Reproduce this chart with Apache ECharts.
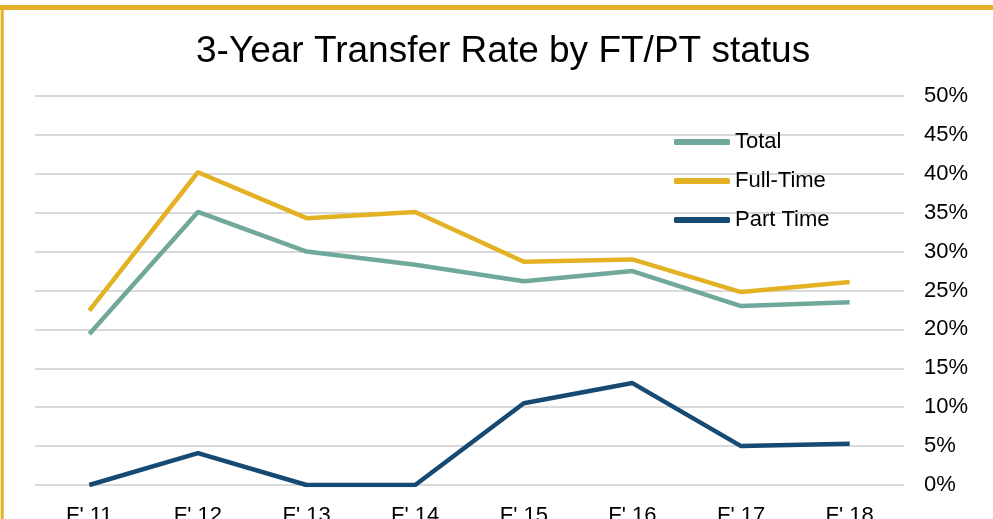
<!DOCTYPE html>
<html>
<head>
<meta charset="utf-8">
<script src="https://cdn.jsdelivr.net/npm/echarts@6/dist/echarts.min.js"></script>
<style>
  html, body { margin: 0; padding: 0; background: #fff; }
  #box { width: 993px; height: 519px; }
</style>
</head>
<body>
<div id="box"></div>
<script>
var years = ["F' 11", "F' 12", "F' 13", "F' 14", "F' 15", "F' 16", "F' 17", "F' 18"];
var total = [19.4, 35.1, 30.0, 28.3, 26.2, 27.5, 23.0, 23.5];
var fullTime = [22.4, 40.2, 34.3, 35.1, 28.7, 29.0, 24.8, 26.1];
var partTime = [0, 4.1, 0, 0, 10.5, 13.1, 5.0, 5.3];

var myChart = echarts.init(document.getElementById('box'));

var option = {
  animation: false,
  textStyle: { fontFamily: 'Liberation Sans, Arial, sans-serif' },
  title: {
    text: '3-Year Transfer Rate by FT/PT status',
    left: 191,
    top: 28,
    textStyle: { fontSize: 37, fontWeight: 'normal', color: '#000' }
  },
  graphic: [
    { type: 'line', shape: { x1: 0, y1: 7.5, x2: 1000, y2: 7.5 }, style: { stroke: '#e3b124', lineWidth: 5 } },
    { type: 'line', shape: { x1: 2.2, y1: 5, x2: 2.2, y2: 530 }, style: { stroke: '#e3b124', lineWidth: 3 } }
  ],
  legend: {
    orient: 'vertical',
    left: 669,
    top: 126,
    icon: 'roundRect',
    itemWidth: 56,
    itemHeight: 6,
    itemGap: 17,
    data: ['Total', 'Full-Time', 'Part Time'],
    textStyle: { fontSize: 22, color: '#000' }
  },
  grid: { left: 35, right: 89, top: 96, bottom: 34, outerBoundsMode: 'none' },
  xAxis: {
    type: 'category',
    data: years,
    axisLine: { show: false },
    axisTick: { show: false },
    axisLabel: { fontSize: 22, color: '#000', margin: 20 }
  },
  yAxis: {
    type: 'value',
    position: 'right',
    min: 0,
    max: 50,
    interval: 5,
    axisLine: { show: false },
    axisTick: { show: false },
    axisLabel: { fontSize: 22, color: '#000', margin: 20, formatter: '{value}%' },
    splitLine: { lineStyle: { color: '#d9d9d9', width: 2 } }
  },
  series: [
    { name: 'Total', type: 'line', data: total, symbol: 'none', lineStyle: { color: '#70a89b', width: 4.5 }, itemStyle: { color: '#70a89b' } },
    { name: 'Full-Time', type: 'line', data: fullTime, symbol: 'none', lineStyle: { color: '#e3b124', width: 4.5 }, itemStyle: { color: '#e3b124' } },
    { name: 'Part Time', type: 'line', data: partTime, symbol: 'none', lineStyle: { color: '#174a73', width: 4.5 }, itemStyle: { color: '#174a73' } }
  ]
};
myChart.setOption(option);
</script>
</body>
</html>
